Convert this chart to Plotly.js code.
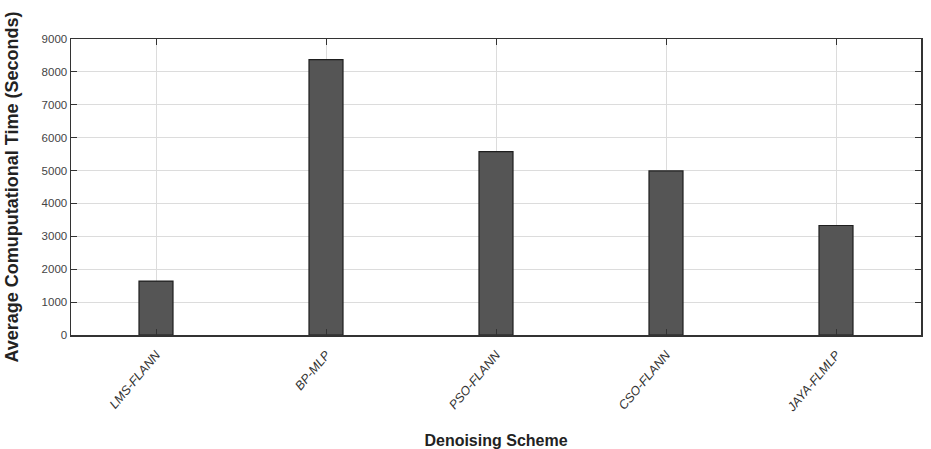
<!DOCTYPE html>
<html>
<head>
<meta charset="utf-8">
<script src="https://cdn.plot.ly/plotly-3.0.1.min.js"></script>
<style>
  html, body { margin: 0; padding: 0; background: #fff; }
  #chart { width: 931px; height: 449px; }
</style>
</head>
<body>
<div id="chart"></div>
<script>
// Denoising schemes and their average computational time (seconds)
const schemes = ['LMS-FLANN', 'BP-MLP', 'PSO-FLANN', 'CSO-FLANN', 'JAYA-FLMLP'];
const avgTime = [1640, 8370, 5575, 4990, 3330];
const yTicks = [0, 1000, 2000, 3000, 4000, 5000, 6000, 7000, 8000, 9000];

const trace = {
  type: 'bar',
  x: schemes.map((_, i) => i),
  y: avgTime,
  width: 0.2,
  marker: { color: '#555555', line: { color: '#1e1e1e', width: 1.2 } },
  hoverinfo: 'x+y'
};

const layout = {
  width: 931,
  height: 449,
  margin: { l: 71, r: 10, t: 39, b: 114 },
  paper_bgcolor: '#ffffff',
  plot_bgcolor: '#ffffff',
  showlegend: false,
  font: { family: 'Liberation Sans, Arial, sans-serif', color: '#333' },
  xaxis: {
    range: [-0.5, 4.5],
    tickmode: 'array',
    tickvals: schemes.map((_, i) => i),
    ticktext: schemes.map(s => '<i>' + s + '</i>'),
    tickangle: -50,
    tickfont: { size: 12.5, color: '#333' },
    ticklabelstandoff: 6,
    ticks: 'inside',
    ticklen: 6,
    tickcolor: '#333',
    showgrid: true,
    gridcolor: '#dcdcdc',
    gridwidth: 1,
    showline: true,
    linecolor: '#333',
    linewidth: 1.5,
    mirror: 'ticks',
    zeroline: false,
    automargin: false,
    title: {
      text: '<b>Denoising Scheme</b>',
      font: { family: 'Liberation Sans Narrow, Arial Narrow, Liberation Sans, sans-serif', size: 16, color: '#222' },
      standoff: 27
    }
  },
  yaxis: {
    range: [0, 9000],
    tickmode: 'array',
    tickvals: yTicks,
    ticktext: yTicks.map(String),
    tickfont: { size: 11.5, color: '#444' },
    ticks: 'inside',
    ticklen: 6,
    tickcolor: '#333',
    showgrid: true,
    gridcolor: '#dcdcdc',
    gridwidth: 1,
    showline: true,
    linecolor: '#333',
    linewidth: 1.5,
    mirror: 'ticks',
    zeroline: false,
    automargin: false,
    title: {
      text: '<b>Average Comuputational Time (Seconds)</b>',
      font: { family: 'Liberation Sans, Arial, sans-serif', size: 18, color: '#222' },
      standoff: 18
    }
  }
};

Plotly.newPlot('chart', [trace], layout, { displayModeBar: false, staticPlot: true });
</script>
</body>
</html>
